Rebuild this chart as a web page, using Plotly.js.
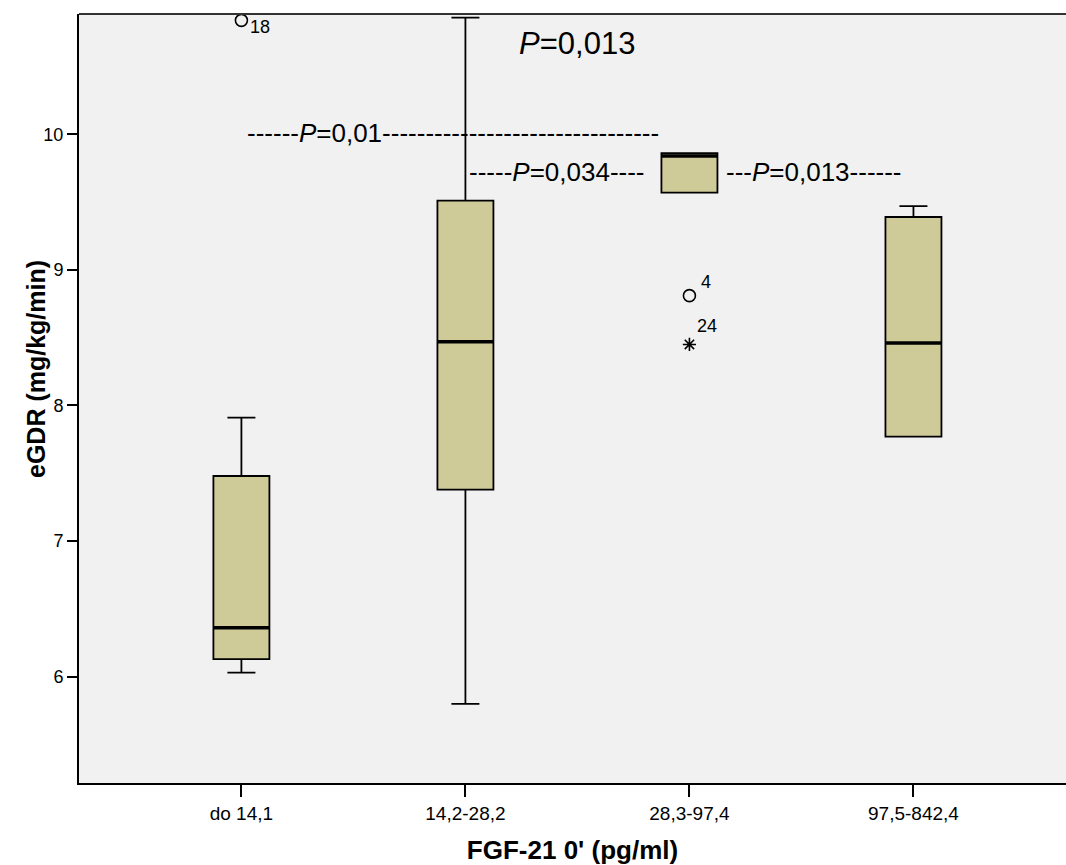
<!DOCTYPE html>
<html>
<head>
<meta charset="utf-8">
<script src="https://cdn.plot.ly/plotly-3.0.1.min.js"></script>
<style>
  html, body { margin: 0; padding: 0; background: #ffffff; }
  #chart { width: 1066px; height: 865px; }
</style>
</head>
<body>
<div id="chart"></div>
<script>
// ---- Data ----
const categories = ["do 14,1", "14,2-28,2", "28,3-97,4", "97,5-842,4"];
const lowerWhisker = [6.03, 5.80, 9.57, 7.77];
const q1Values     = [6.13, 7.38, 9.57, 7.77];
const medianValues = [6.36, 8.47, 9.84, 8.46];
const q3Values     = [7.48, 9.51, 9.86, 9.39];
const upperWhisker = [7.91, 10.86, 9.86, 9.47];

// outliers: category index, value, case label
const outlierCat   = [0, 2];
const outlierVal   = [10.84, 8.81];
const outlierLabel = ["18", "4"];
const extremeCat   = [2];
const extremeVal   = [8.45];
const extremeLabel = ["24"];

// p-value annotations
const pLabels = ["------<i>P</i>=0,01--------------------------------",
                 "-----<i>P</i>=0,034----",
                 "---<i>P</i>=0,013------",
                 "<i>P</i>=0,013"];

const yTitle = "eGDR (mg/kg/min)";
const xTitle = "FGF-21 0' (pg/ml)";

// ---- Styling ----
const FONT = "Liberation Sans, Arial, Helvetica, sans-serif";
const boxFill = "#cecb98";
const plotBg = "#f0f1f0";
const boxW = 0.25;
const xIdx = categories.map((_, i) => i);

const boxTrace = {
  type: "box",
  x: xIdx,
  q1: q1Values,
  median: medianValues,
  q3: q3Values,
  lowerfence: lowerWhisker,
  upperfence: upperWhisker,
  width: boxW,
  whiskerwidth: 0.5,
  boxpoints: false,
  fillcolor: boxFill,
  line: { color: "#000000", width: 1.8 },
  hoverinfo: "skip",
  showlegend: false
};

// thick median lines
const medX = [], medY = [];
xIdx.forEach((xi, i) => {
  medX.push(xi - boxW / 2, xi + boxW / 2, null);
  medY.push(medianValues[i], medianValues[i], null);
});
const medianTrace = {
  type: "scatter", mode: "lines", x: medX, y: medY,
  line: { color: "#000000", width: 3.5 },
  hoverinfo: "skip", showlegend: false
};

const outlierTrace = {
  type: "scatter", mode: "markers",
  x: outlierCat, y: outlierVal,
  marker: { symbol: "circle-open", size: 12, color: "#000000", line: { width: 1.6, color: "#000000" } },
  hoverinfo: "skip", showlegend: false
};
const extremeTrace = {
  type: "scatter", mode: "markers",
  x: extremeCat, y: extremeVal,
  marker: { symbol: "asterisk-open", size: 11, color: "#000000", line: { width: 1.6, color: "#000000" } },
  hoverinfo: "skip", showlegend: false
};

const annotations = [];
// case labels
const labelShift = [[19, -7], [17, 14]];
outlierCat.forEach((c, i) => {
  annotations.push({
    x: c, y: outlierVal[i], xref: "x", yref: "y", text: outlierLabel[i],
    showarrow: false, xanchor: "center", yanchor: "middle",
    xshift: labelShift[i][0], yshift: labelShift[i][1],
    font: { family: FONT, size: 18, color: "#000000" }
  });
});
extremeCat.forEach((c, i) => {
  annotations.push({
    x: c, y: extremeVal[i], xref: "x", yref: "y", text: extremeLabel[i],
    showarrow: false, xanchor: "center", yanchor: "middle",
    xshift: 18, yshift: 18,
    font: { family: FONT, size: 18, color: "#000000" }
  });
});

// p-value texts
const pPos = [
  { x: 0.016, y: 10.01, size: 26 },
  { x: 1.007, y: 9.722, size: 26 },
  { x: 2.154, y: 9.722, size: 26 },
  { x: 1.229, y: 10.673, size: 31 }
];
pLabels.forEach((t, i) => {
  annotations.push({
    x: pPos[i].x, y: pPos[i].y, xref: "x", yref: "y", text: t,
    showarrow: false, xanchor: "left", yanchor: "middle",
    font: { family: FONT, size: pPos[i].size, color: "#000000" }
  });
});

// layout geometry
const L = 79, T = 14, B = 82, R = 0, W = 1066, H = 865;
const pw = W - L - R, ph = H - T - B;

// y axis title (annotation, positioned like the reference)
annotations.push({
  x: (36 - L) / pw, y: 1 - (369 - T) / ph, xref: "paper", yref: "paper",
  text: "<b>" + yTitle + "</b>",
  showarrow: false, textangle: -90, xanchor: "center", yanchor: "middle",
  font: { family: FONT, size: 25, color: "#000000" }
});

const layout = {
  width: W, height: H,
  margin: { l: L, r: R, t: T, b: B, pad: 0 },
  paper_bgcolor: "#ffffff",
  plot_bgcolor: plotBg,
  showlegend: false,
  font: { family: FONT, color: "#000000" },
  xaxis: {
    range: [-0.725, 3.681],
    tickmode: "array", tickvals: xIdx, ticktext: categories,
    showgrid: false, zeroline: false,
    showline: true, linecolor: "#000000", linewidth: 2,
    ticks: "outside", ticklen: 12, tickwidth: 2, tickcolor: "#000000",
    tickfont: { family: FONT, size: 19, color: "#000000" },
    title: { text: "<b>" + xTitle + "</b>", font: { family: FONT, size: 26, color: "#000000" }, standoff: 20 }
  },
  yaxis: {
    range: [5.216, 10.887],
    tickvals: [6, 7, 8, 9, 10],
    showgrid: false, zeroline: false,
    showline: true, linecolor: "#000000", linewidth: 2,
    ticks: "outside", ticklen: 10, tickwidth: 2, tickcolor: "#000000",
    tickfont: { family: FONT, size: 18, color: "#000000" }
  },
  shapes: [{
    type: "line", xref: "paper", yref: "paper", x0: 0, x1: 1, y0: 1, y1: 1,
    line: { color: "#333333", width: 2 }
  }],
  annotations: annotations
};

Plotly.newPlot("chart", [boxTrace, medianTrace, outlierTrace, extremeTrace], layout,
  { staticPlot: true, displayModeBar: false });
</script>
</body>
</html>
